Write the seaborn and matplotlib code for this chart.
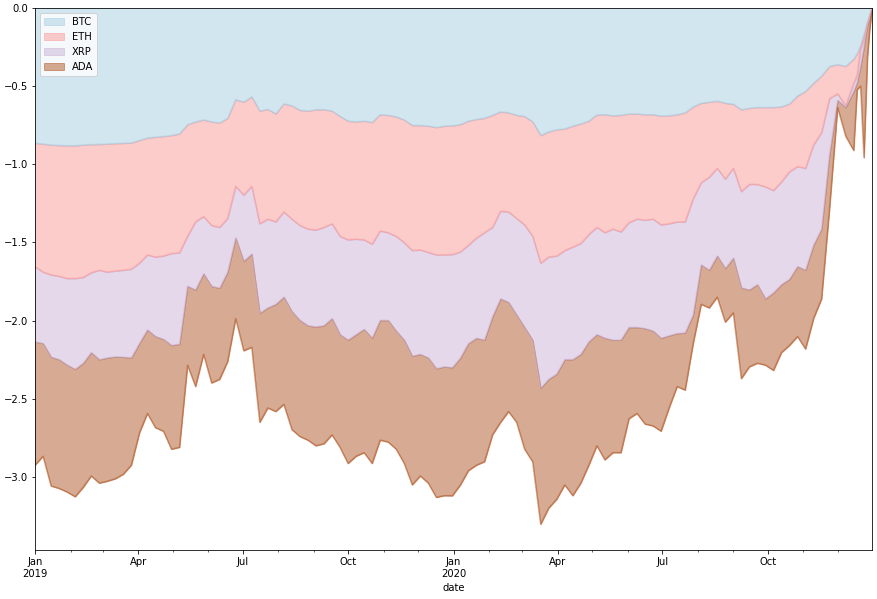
import numpy as np
import pandas as pd
import matplotlib.pyplot as plt
import matplotlib.dates as mdates
from matplotlib.ticker import FuncFormatter
import seaborn as sns

coins = ["BTC", "ETH", "XRP", "ADA"]

# weekly readings plus a few extra points in the last two weeks
weekly_dates = pd.date_range("2019-01-01", "2020-12-15", freq="7D")
late_dates = pd.to_datetime(["2020-12-18", "2020-12-21", "2020-12-24",
                             "2020-12-27", "2020-12-29", "2020-12-31"])
dates = weekly_dates.append(late_dates)

# depth of the lower edge of each stacked band
btc_edge = [0.865, 0.870, 0.876, 0.879, 0.881, 0.881, 0.876, 0.874, 0.872, 0.870, 0.867, 0.865, 0.863, 0.847, 0.831, 0.826, 0.822, 0.815,
            0.805, 0.746, 0.728, 0.716, 0.728, 0.735, 0.705, 0.586, 0.602, 0.568, 0.659, 0.648, 0.677, 0.613, 0.625, 0.654, 0.659, 0.650,
            0.650, 0.659, 0.693, 0.723, 0.728, 0.723, 0.732, 0.682, 0.686, 0.696, 0.716, 0.751, 0.751, 0.755, 0.764, 0.755, 0.753, 0.745,
            0.723, 0.712, 0.705, 0.686, 0.664, 0.670, 0.686, 0.693, 0.728, 0.815, 0.792, 0.778, 0.773, 0.755, 0.741, 0.723, 0.684,
            0.682, 0.689, 0.686, 0.677, 0.677, 0.682, 0.682, 0.691, 0.689, 0.682, 0.670, 0.632, 0.609, 0.602, 0.595, 0.609, 0.615, 0.651,
            0.641, 0.636, 0.636, 0.636, 0.632, 0.613, 0.563, 0.533, 0.481, 0.435, 0.373, 0.362, 0.373, 0.327,
            0.293, 0.243, 0.167, 0.092, 0.041, 0.0]
eth_edge = [1.654, 1.689, 1.707, 1.716, 1.730, 1.730, 1.723, 1.693, 1.677, 1.689, 1.682, 1.677, 1.670, 1.632, 1.579, 1.593, 1.586, 1.570,
            1.566, 1.460, 1.368, 1.334, 1.391, 1.403, 1.346, 1.140, 1.197, 1.140, 1.380, 1.350, 1.368, 1.304, 1.350, 1.391, 1.414, 1.420,
            1.403, 1.380, 1.460, 1.483, 1.478, 1.483, 1.510, 1.426, 1.437, 1.460, 1.501, 1.551, 1.547, 1.563, 1.579, 1.579, 1.577, 1.560,
            1.517, 1.471, 1.437, 1.403, 1.300, 1.304, 1.346, 1.387, 1.460, 1.632, 1.593, 1.586, 1.551, 1.529, 1.506, 1.449, 1.403,
            1.437, 1.414, 1.432, 1.373, 1.350, 1.357, 1.350, 1.387, 1.380, 1.368, 1.368, 1.220, 1.117, 1.082, 1.025, 1.094, 1.025, 1.174,
            1.128, 1.128, 1.144, 1.167, 1.112, 1.048, 1.014, 1.025, 0.876, 0.796, 0.579, 0.549, 0.625, 0.481,
            0.430, 0.259, 0.201, 0.098, 0.053, 0.0]
xrp_edge = [2.135, 2.146, 2.233, 2.249, 2.284, 2.311, 2.272, 2.204, 2.249, 2.238, 2.231, 2.233, 2.238, 2.146, 2.059, 2.101, 2.119, 2.158,
            2.150, 1.780, 1.803, 1.700, 1.780, 1.792, 1.689, 1.471, 1.620, 1.574, 1.952, 1.918, 1.895, 1.849, 1.941, 1.998, 2.032, 2.040,
            2.032, 1.986, 2.089, 2.124, 2.089, 2.055, 2.112, 1.998, 1.998, 2.066, 2.124, 2.227, 2.215, 2.238, 2.307, 2.295, 2.300, 2.238,
            2.146, 2.112, 2.124, 1.975, 1.860, 1.883, 1.963, 2.043, 2.124, 2.432, 2.375, 2.341, 2.249, 2.249, 2.215, 2.135, 2.089,
            2.112, 2.124, 2.124, 2.043, 2.043, 2.050, 2.066, 2.112, 2.096, 2.082, 2.078, 1.963, 1.643, 1.677, 1.586, 1.666, 1.600, 1.790,
            1.803, 1.769, 1.860, 1.822, 1.769, 1.735, 1.654, 1.677, 1.517, 1.414, 0.934, 0.590, 0.636, 0.533,
            0.476, 0.373, 0.247, 0.110, 0.064, 0.0]
ada_edge = [2.924, 2.867, 3.057, 3.073, 3.096, 3.126, 3.066, 2.993, 3.039, 3.027, 3.011, 2.982, 2.924, 2.719, 2.593, 2.684, 2.707, 2.822,
            2.810, 2.284, 2.421, 2.215, 2.398, 2.375, 2.261, 1.986, 2.192, 2.170, 2.650, 2.558, 2.581, 2.535, 2.696, 2.741, 2.764, 2.800,
            2.787, 2.730, 2.810, 2.913, 2.867, 2.844, 2.913, 2.764, 2.776, 2.822, 2.913, 3.050, 2.993, 3.039, 3.130, 3.119, 3.120, 3.050,
            2.959, 2.924, 2.902, 2.730, 2.650, 2.581, 2.650, 2.822, 2.902, 3.302, 3.199, 3.142, 3.050, 3.119, 3.039, 2.924, 2.800,
            2.890, 2.844, 2.844, 2.627, 2.593, 2.661, 2.673, 2.707, 2.558, 2.421, 2.444, 2.146, 1.895, 1.918, 1.849, 2.009, 1.950, 2.370,
            2.295, 2.272, 2.284, 2.318, 2.204, 2.158, 2.101, 2.181, 1.986, 1.860, 1.277, 0.636, 0.819, 0.911,
            0.522, 0.499, 0.957, 0.316, 0.133, 0.02]

# drawdown of each coin = thickness of its band (negative)
edges = np.vstack([np.zeros(len(dates)), btc_edge, eth_edge, xrp_edge, ada_edge])
df = pd.DataFrame(-np.diff(edges, axis=0).T, index=dates, columns=coins)
df.index.name = "date"
stacked = df.cumsum(axis=1)

palette = sns.color_palette("Paired")
colors = [palette[0], palette[4], palette[8], palette[11]]

fig, ax = plt.subplots(figsize=(877 / 72, 599 / 72), dpi=72)
fig.subplots_adjust(left=35 / 877, right=872 / 877, top=1 - 8 / 599, bottom=1 - 550 / 599)

prev = np.zeros(len(df))
for coin, c in zip(coins, colors):
    level = stacked[coin].to_numpy()
    sns.lineplot(x=df.index, y=level, color=c, alpha=0.5, lw=1.5, ax=ax)
    ax.fill_between(df.index, prev, level, color=c, alpha=0.5, label=coin)
    prev = level

ax.set_xlim(dates[0], dates[-1])
ax.set_ylim(top=0)


def month_label(v, pos):
    d = mdates.num2date(v)
    s = d.strftime("%b")
    if d.month == 1:
        s += "\n" + str(d.year)
    return s


ax.xaxis.set_major_locator(mdates.MonthLocator(bymonth=[1, 4, 7, 10]))
ax.xaxis.set_minor_locator(mdates.MonthLocator())
ax.xaxis.set_major_formatter(FuncFormatter(month_label))
ax.set_xlabel("date")
ax.set_ylabel("")
ax.legend(loc="upper left")

fig.savefig("out.png", dpi=72)
